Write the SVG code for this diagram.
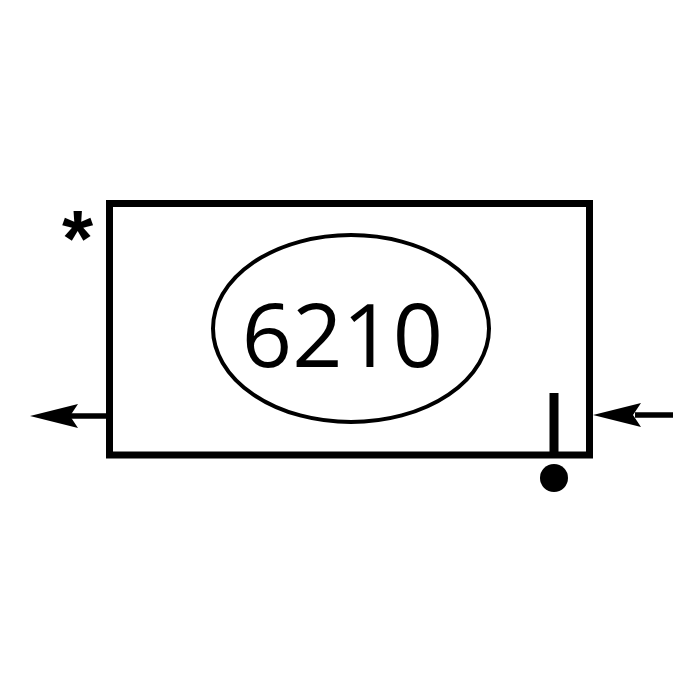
<svg xmlns="http://www.w3.org/2000/svg" width="700" height="700" viewBox="0 0 700 700">
<style>
.ln{stroke:#000;fill:none}
.ah{fill:#000}
</style>
<rect width="700" height="700" fill="#fff"/>
<g id="block">
<rect class="ln" x="109.5" y="203.5" width="480" height="251.5" stroke-width="7"/>
</g>
<g id="label">
<ellipse class="ln" cx="351" cy="328.5" rx="138" ry="93.5" stroke-width="4"/>
<text x="342.5" y="367" text-anchor="middle" font-family="'Open Sans', sans-serif" font-size="88" fill="#000">6210</text>
</g>
<g id="star">
<text x="77.5" y="266" text-anchor="middle" font-family="'Liberation Sans', sans-serif" font-weight="bold" font-size="80" fill="#000">*</text>
</g>
<g id="connectors">
<line class="ln" x1="106" y1="416" x2="70" y2="416" stroke-width="5.5"/>
<path class="ah" d="M30,416 L78,404 L70,416 L78,428 Z"/>
<line class="ln" x1="673" y1="415" x2="635" y2="415" stroke-width="5.5"/>
<path class="ah" d="M593,415 L641,403 L633,415 L641,427 Z"/>
</g>
<g id="sensor">
<line class="ln" x1="554" y1="393" x2="554" y2="455" stroke-width="9"/>
<circle cx="554" cy="478" r="14" fill="#000"/>
</g>
</svg>
